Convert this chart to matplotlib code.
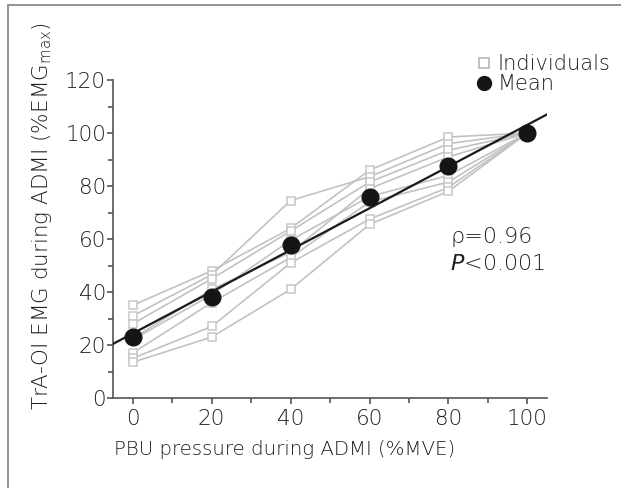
import numpy as np
import matplotlib.pyplot as plt
from matplotlib.lines import Line2D
from matplotlib.patches import Rectangle

plt.rcParams['font.family'] = ['DejaVu Sans']
plt.rcParams['font.weight'] = 'light'
plt.rcParams['axes.labelweight'] = 'light'
plt.rcParams['mathtext.fontset'] = 'custom'
plt.rcParams['mathtext.rm'] = 'DejaVu Sans:light'
plt.rcParams['mathtext.it'] = 'DejaVu Sans:italic:light'

# PBU pressure levels (%MVE)
pressure = [0, 20, 40, 60, 80, 100]
# individual TrA-OI EMG (%EMGmax), one list per subject
ind1 = [35, 48, 64, 86, 98.5, 100]
ind2 = [31, 46.5, 74.5, 83.5, 96, 100]
ind3 = [28, 45, 63, 81.5, 93.5, 100]
ind4 = [22.5, 41, 55, 79, 91, 100]
ind5 = [22, 39, 59.5, 76, 84, 100]
ind6 = [17, 36, 53, 74, 81.5, 100]
ind7 = [15, 27, 51, 67.5, 79.5, 100]
ind8 = [13.5, 23, 41, 65.5, 78, 100]
individuals = [ind1, ind2, ind3, ind4, ind5, ind6, ind7, ind8]
# group mean
mean_emg = [23, 38.2, 57.7, 76, 87.5, 100]

fw, fh = 6.21, 4.88
fig = plt.figure(figsize=(fw, fh), dpi=100)
ax = fig.add_axes([0.182, 0.1844, 0.699, 0.6516])

txtc = '#1e1e1e'
grey = '#c2c2c2'
for ind in individuals:
    ax.plot(pressure, ind, '-', color=grey, lw=1.2, zorder=2)
    ax.plot(pressure, ind, 's', ms=6, mfc='white', mec='#c8c8c8', mew=1.1, zorder=3)

# regression line through the means
slope, icpt = np.polyfit(pressure, mean_emg, 1)
xfit = np.array([-5, 105])
ax.plot(xfit, icpt + slope * xfit, color='#1a1a1a', lw=1.6, zorder=4)
ax.plot(pressure, mean_emg, 'o', ms=12, color='#151515', zorder=5)

ax.set_xlim(-5, 105)
ax.set_ylim(0, 120)
ax.set_xticks(range(0, 101, 20))
ax.set_xticks(range(10, 101, 20), minor=True)
ax.set_yticks(range(0, 121, 20))
ax.set_yticks(range(10, 121, 20), minor=True)
for s in ['top', 'right']:
    ax.spines[s].set_visible(False)
for s in ['left', 'bottom']:
    ax.spines[s].set_color('#555555')
    ax.spines[s].set_linewidth(1.2)
ax.tick_params(which='both', direction='out', color='#555555', width=1.2)
ax.tick_params(which='major', length=4, labelsize=15.5, labelcolor=txtc)
ax.tick_params(axis='y', which='major', pad=1)
ax.tick_params(axis='x', which='major', pad=4)
ax.tick_params(which='minor', length=3.5)

ax.set_xlabel('PBU pressure during ADMI (%MVE)', fontsize=14.2, color=txtc, labelpad=8)
ax.set_ylabel('TrA-OI EMG during ADMI (%EMG$_{\\mathregular{max}}$)', fontsize=15.5,
              color=txtc, labelpad=8)
ax.xaxis.label.set_x(0.396)
ax.yaxis.label.set_y(0.572)

ax.text(80.5, 58.5, '\u03c1=0.96', fontsize=16, color=txtc)
ax.text(80.5, 48.3, '$\\it{P}$<0.001', fontsize=16, color=txtc)

handles = [Line2D([], [], ls='none', marker='s', ms=7, mfc='white', mec='#b5b5b5', mew=1.2),
           Line2D([], [], ls='none', marker='o', ms=10, color='#151515')]
ax.legend(handles, ['Individuals', 'Mean'], loc='upper right', bbox_to_anchor=(1.17, 1.115),
          frameon=False, fontsize=15, handlelength=0.6, handletextpad=0.35,
          labelspacing=0.0, borderpad=0, labelcolor=txtc)

# frame around the figure panel
fig.patches.append(Rectangle((8 / 621, -0.05), 1.1, 1 - 5.5 / 488 + 0.05,
                             transform=fig.transFigure, fill=False,
                             ec='#8a8a8a', lw=1.3))

plt.savefig('out.png', dpi=100)
